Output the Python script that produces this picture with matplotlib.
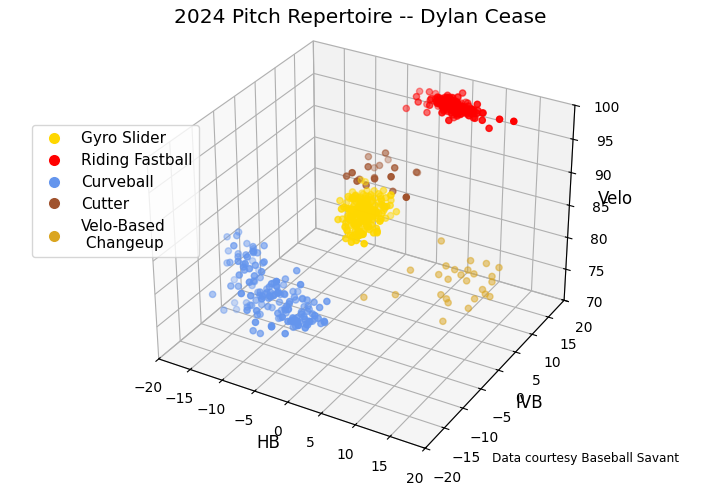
import matplotlib.pyplot as plt
from matplotlib.lines import Line2D

# pitch data: HB (in), IVB (in), velo (mph)
ff_hb = [3.0, 4.5, 2.4, 5.9, 0.9, 3.8, 5.1, 1.6, 4.1, 6.5, 0.3, 2.7, 5.6, 2.1, 3.3, 7.7, -0.7, 4.6, 3.7, 1.3,
         7.0, 4.0, 2.5, 5.0, -0.2, 2.9, 6.0, 1.9, 4.3, 3.2, 8.5, 0.6, 3.5, 5.7, 1.1, 4.1, 6.4, -1.3, 4.8, 2.7,
         2.2, 5.3, 3.0, 7.2, 0.5, 3.8, 4.5, 1.7, 9.4, 3.3, 5.4, 1.4, 4.0, 6.7, -0.5, 3.7, 4.3, 2.4, 7.5, 2.9,
         4.8, 0.8, 4.1, 6.2, 2.1, 3.2, 5.6, -2.4, 3.5, 5.1, 2.5, 7.3, 2.7, 0.1, 4.6, 3.8, 1.6, 5.9, 3.3, 10.7,
         4.5, 2.2, 3.7, 6.9, 0.9, 3.0, 5.0, 1.9, 8.0, 4.0, -1.8, 4.3, 2.9, 6.5, 1.1, 4.1, 5.4, 2.4, 3.2, 12.6,
         3.0, 4.6, 2.2, 5.3, 3.8, 1.5, 4.1, 6.0, 2.7, 3.4, 5.0, 1.9, 4.4, 3.1, 6.6, 2.4, 3.9, 4.8, 0.9, 3.6,
         5.6, 2.9, 4.2, 1.2, 3.3, 5.2, 2.5, 4.0, 6.3, 3.7, 2.0, 4.5, 3.2, 5.8, 1.7, 3.5, 4.9, 2.6, 4.3, 7.2,
         3.0, 1.4, 5.4, 3.8, 2.3, 4.7, 3.4, 6.1, 2.8, 4.1, 0.6, 3.6, 5.1, 2.1, 4.6, 3.3, 5.7, 2.6, 3.9, 4.4]
ff_ivb = [17.2, 16.5, 18.1, 17.8, 15.9, 16.9, 18.4, 17.0, 15.6, 17.5, 18.8, 16.2, 17.3, 19.0, 16.7, 17.9, 15.2, 16.4, 18.2, 17.1,
          16.0, 17.6, 18.6, 16.8, 17.4, 15.4, 18.0, 16.6, 19.3, 17.2, 16.1, 17.7, 14.8, 17.0, 18.5, 16.3, 17.8, 15.8, 16.9, 18.3,
          17.4, 16.0, 19.6, 17.1, 15.5, 16.7, 18.0, 17.5, 16.4, 14.5, 17.9, 16.8, 18.7, 15.7, 17.3, 16.2, 18.4, 17.0, 16.5, 17.6,
          15.3, 18.9, 16.9, 17.4, 16.1, 18.2, 17.7, 15.0, 16.6, 17.8, 19.1, 16.3, 17.2, 18.6, 15.9, 17.0, 16.4, 18.1, 17.5, 16.8,
          14.2, 17.3, 18.3, 16.0, 17.9, 16.7, 15.6, 18.5, 17.1, 16.2, 17.6, 19.4, 16.5, 17.4, 15.1, 18.0, 16.9, 17.7, 16.3, 17.2,
          16.8, 17.4, 17.9, 16.3, 17.1, 16.6, 18.2, 17.0, 16.1, 17.6, 16.9, 17.8, 16.4, 18.5, 17.2, 16.7, 17.5, 16.0, 17.3, 18.0,
          16.5, 17.7, 16.2, 17.1, 18.3, 16.8, 17.4, 15.8, 17.0, 16.6, 17.9, 16.3, 17.6, 16.9, 17.2, 18.4, 16.1, 17.5, 16.7, 17.3,
          17.8, 16.4, 17.0, 15.9, 17.7, 16.6, 18.1, 17.2, 16.8, 17.4, 16.2, 17.6, 16.9, 18.6, 16.5, 17.1, 17.9, 16.0, 17.3, 16.7]
ff_velo = [97.1, 96.6, 97.5, 96.9, 98.0, 96.3, 97.3, 97.8, 96.8, 97.0, 95.9, 97.6, 96.5, 97.2, 98.3, 96.7, 97.4, 96.1, 97.9, 96.9,
           97.3, 95.6, 97.0, 96.4, 98.1, 97.5, 96.8, 97.2, 96.2, 97.7, 96.6, 97.1, 98.5, 96.9, 95.8, 97.4, 96.3, 97.8, 97.0, 96.5,
           97.6, 96.7, 97.2, 98.2, 96.0, 97.3, 96.8, 97.5, 95.5, 97.1, 96.4, 97.9, 96.9, 97.0, 96.2, 97.4, 98.6, 96.6, 97.2, 96.8,
           97.7, 96.3, 97.0, 96.9, 97.5, 95.7, 97.3, 96.1, 97.8, 96.7, 97.1, 96.5, 98.0, 97.4, 96.8, 95.4, 97.2, 96.6, 97.6, 97.0,
           96.4, 97.9, 96.9, 97.3, 96.0, 97.5, 98.4, 96.7, 97.1, 96.2, 97.7, 96.8, 97.0, 95.9, 97.4, 96.6, 97.2, 98.1, 96.5, 97.0,
           97.0, 96.6, 97.4, 97.1, 96.3, 97.7, 96.9, 97.2, 96.5, 97.5, 96.8, 97.3, 97.9, 96.7, 97.0, 96.4, 97.6, 97.1, 96.9, 96.2,
           97.4, 96.8, 97.2, 97.8, 96.6, 97.0, 96.1, 97.5, 96.9, 97.3, 96.7, 97.1, 98.0, 96.5, 97.4, 96.8, 97.6, 97.0, 96.3, 97.2,
           96.9, 97.5, 96.6, 97.1, 97.8, 96.4, 97.3, 96.8, 97.0, 96.2, 97.6, 96.9, 97.4, 96.7, 97.1, 97.9, 96.5, 97.2, 96.8, 97.3]

sl_hb = [-1.3, -0.2, -2.2, 0.5, -3.0, -0.8, -1.7, 0.1, -2.6, -0.5, 1.2, -1.9, -1.0, -3.5, 0.3, -1.4, -0.1, -2.8, -0.4, -1.1,
         0.8, -2.1, -0.7, -3.8, 0.0, -1.6, 1.6, -2.4, -0.6, -1.2, 0.6, -3.2, -0.3, -1.8, 0.2, -2.5, 2.1, -1.5, -0.9, -4.2,
         0.4, -2.0, -0.4, -2.9, 1.0, -1.3, -0.1, -3.4, 0.7, -1.7, -0.8, -2.3, 1.4, -1.1, -4.6, 0.1, -1.9, -0.5, -2.7, -0.2,
         -1.4, 0.9, -3.1, -0.7, -2.1, 1.8, -1.6, 0.3, -3.6, -1.0, 0.5, -2.4, -0.3, -1.2, -3.9, 0.0, -1.8, 1.1, -2.6, -0.6,
         -1.5, 0.7, -3.3, -0.1, -2.2, 2.5, -1.1, -0.4, -2.8, 0.2, -1.7, 1.3, -3.0, -0.8, -2.0, 0.4, -5.0, -0.2, -1.3, 0.9,
         -2.5, -0.9, 1.7, -1.9, -0.5, -3.2, 0.6, -1.4, -1.0, -2.3,
         -0.1, -2.4, -0.8, -3.3, 0.6, -1.5, -2.9, -0.4, 1.1, -1.9, -3.6, 0.1, -1.2, -0.6, -2.6, 1.5, -1.7, -3.9, -0.2, 0.4,
         -2.1, -1.0, -3.0, 0.9, -1.4, -0.3, -2.5, 1.8, -1.8, -3.4, -0.7, 0.2, -2.3, -1.1, 1.3, -2.8, -0.5, -4.1, 0.0, -1.6,
         0.7, -3.2, -1.3, -0.1, -2.0, 1.0, -2.7, -0.9, -3.7, 0.3, -1.5, -0.4, -2.4, 1.6, -1.9, -0.8, -3.1, 0.5, -1.2, -2.2,
         -0.6, 0.8, -3.5, -1.6, 0.1, -2.9, -0.3, -1.3, 1.2, -2.6, -1.0, -3.8, 0.4, -1.7, -0.2, -2.1, 1.4, -1.4, -2.8, -0.7,
         -1.9, 0.6, -3.3, -0.5, -1.1, 0.9, -2.5, -0.1, -3.6, -0.8]
sl_ivb = [2.9, 0.4, 1.1, 3.8, -1.2, 2.2, 4.6, 0.8, 1.6, -0.5, 3.1, 2.5, -2.0, 1.3, 0.0, 4.0, 1.9, -0.9, 2.7, 3.4,
          0.6, -1.6, 1.4, 5.1, 2.0, 0.2, 3.6, -0.3, 1.7, 2.4, -2.6, 0.9, 3.9, 1.2, -1.0, 2.8, 4.4, 0.5, -0.1, 2.1,
          3.3, 1.5, -1.4, 0.7, 4.8, 2.6, -0.6, 1.0, 3.0, 2.3, -2.3, 1.8, 0.3, 5.4, 1.1, -0.8, 2.9, 3.7, 0.1, 1.6,
          -1.8, 2.5, 4.2, 0.9, 1.4, -0.2, 3.5, 2.0, -1.1, 0.6, 4.1, 2.8, -3.0, 1.3, 3.2, 0.4, 1.9, 4.7, -0.4, 2.2,
          0.8, -1.3, 3.6, 1.7, 2.6, -0.7, 0.2, 5.8, 1.5, 3.0, -2.0, 2.4, 1.0, 3.8, -0.1, 1.2, 4.3, 0.7, 2.1, -1.5,
          3.4, 1.8, 0.0, 2.7, -0.9, 4.5, 1.4, 0.3, 3.1, 2.0,
          0.4, 4.1, -1.5, 2.6, -2.0, 2.3, 0.9, 4.0, 2.3, -0.2, 3.5, -2.7, 0.6, 3.4, 0.8, -0.6, 1.4, 5.5, -1.2, 1.9,
          2.0, -2.4, 2.9, 3.7, -0.5, -1.5, 4.6, 0.8, 0.0, 3.1, -0.8, 1.2, 3.0, 0.5, 2.6, 4.1, -1.9, 1.9, 3.8, -2.5,
          1.6, 2.8, -0.9, 2.4, 1.0, 4.9, -0.7, 2.2, 0.2, 1.5, 3.9, -3.1, 1.5, 2.7, -0.5, 2.1, 5.2, -1.6, 2.8, 0.9,
          1.8, -0.6, 3.3, 0.4, -1.9, 3.6, 1.2, 1.4, 4.4, -1.0, 0.7, 2.9, -1.8, 4.2, 0.1, 1.7, -2.9, 4.6, 1.1, -0.2,
          3.2, -0.1, 2.5, -1.2, 3.4, 1.0, 0.6, 4.8, 1.9, 1.3]
sl_velo = [86.2, 87.9, 87.4, 86.6, 88.3, 85.8, 87.1, 86.9, 88.7, 87.5, 86.0, 87.3, 88.1, 85.6, 86.8, 87.7, 86.4, 88.5, 87.0, 85.9,
           87.6, 86.7, 88.9, 86.1, 87.2, 85.4, 87.8, 86.5, 88.2, 87.0, 86.3, 89.1, 86.9, 87.4, 85.7, 88.0, 86.6, 87.5, 84.9, 87.3,
           88.6, 86.2, 87.1, 86.8, 85.5, 88.4, 87.6, 86.0, 87.9, 86.4, 89.4, 87.2, 85.9, 86.7, 88.0, 87.5, 86.3, 85.2, 87.8, 86.9,
           87.4, 88.8, 86.1, 87.0, 86.6, 85.6, 88.3, 87.3, 86.5, 89.0, 86.8, 87.7, 85.8, 86.2, 88.5, 87.1, 86.4, 87.9, 84.7, 87.5,
           86.9, 88.1, 87.2, 85.3, 86.6, 87.8, 88.7, 86.0, 87.4, 86.5, 85.9, 88.2, 87.0, 86.3, 89.7, 87.6, 86.7, 85.5, 88.4, 87.1,
           86.8, 88.0, 85.7, 87.3, 86.1, 87.9, 88.6, 86.4, 84.4, 87.2,
           86.7, 87.9, 85.7, 87.1, 85.9, 87.8, 86.1, 88.8, 87.1, 86.9, 87.8, 85.2, 87.1, 88.4, 86.3, 85.7, 87.6, 89.2, 85.2, 87.3,
           86.7, 85.5, 88.0, 88.7, 86.2, 85.2, 88.4, 87.2, 85.9, 88.1, 86.5, 86.4, 87.9, 86.3, 88.0, 88.0, 85.5, 86.6, 88.7, 84.9,
           87.4, 87.5, 86.3, 87.1, 87.4, 88.6, 85.5, 87.6, 85.9, 87.4, 88.4, 85.0, 86.7, 88.1, 85.8, 87.4, 89.3, 85.7, 87.2, 87.0,
           87.0, 86.4, 88.1, 85.9, 85.6, 87.8, 87.4, 86.6, 88.8, 85.6, 87.0, 87.6, 85.9, 87.9, 86.5, 86.8, 85.2, 88.7, 86.4, 86.5,
           88.1, 85.7, 87.9, 85.8, 87.7, 87.3, 86.4, 89.0, 86.6, 87.1]

cu_hb = [-7.5, -5.2, -9.1, -6.3, -8.4, -4.8, -10.2, -6.9, -7.8, -3.9, -11.0, -5.7, -8.0, -6.1, -9.6, -4.4, -7.2, -12.3, -5.9, -8.7,
         -6.6, -2.9, -9.9, -7.0, -5.4, -10.8, -6.0, -8.2, -4.1, -11.7, -7.4, -5.0, -9.3, -6.8, -3.4, -8.9, -7.7, -13.1, -5.6, -6.4,
         -9.0, -4.6, -7.9, -10.5, -6.2, -8.5, -3.1, -7.1, -11.4, -5.3, -8.1, -6.7, -9.8, -4.9, -7.3, -12.6, -5.8, -8.6, -2.5, -7.6,
         -10.0, -6.5, -8.3, -4.3, -9.4, -7.0, -14.0, -5.1, -8.8, -6.0, -3.7, -9.2, -7.5, -11.9, -5.5, -8.0, -6.8, -10.4, -4.7, -7.8,
         -2.5, -0.8, -4.1, -1.6, -3.3, 0.1, -2.0, -4.8, -1.1, -3.0, -0.3, -2.8, -5.2, -1.9, -3.6, 0.5, -2.2, -1.3, -4.4, -0.6,
         -3.1, -2.6, 1.1, -1.8, -3.9, -0.1, -2.4, -5.6, -1.0, -3.4, -2.1, -0.5, -4.0, -1.5, -2.9, 0.8, -3.7, -1.2, -2.7, -4.6,
         -0.9, -2.3, -3.2, -1.7, -6.0, 0.0, -2.5, -3.8, -1.4, -2.0,
         -11.0, -9.2, -12.8, -10.1, -13.5, -8.6, -11.9, -10.6, -14.2, -9.7, -12.3, -11.4, -8.1, -13.0, -10.3, -12.0, -9.0, -11.6, -14.8, -10.9,
         -12.6, -9.5, -11.2, -13.8, -10.0]
cu_ivb = [-11.2, -14.6, -13.9, -10.5, -15.3, -12.4, -12.0, -16.1, -13.3, -9.8, -14.0, -12.8, -15.7, -11.6, -13.5, -14.9, -10.9, -13.1, -12.2, -16.8,
          -13.7, -11.0, -14.3, -12.6, -15.0, -9.4, -13.8, -12.9, -11.4, -14.7, -16.3, -12.3, -10.7, -13.6, -15.5, -12.0, -14.1, -11.8, -13.2, -17.2,
          -12.5, -14.8, -10.2, -13.0, -15.9, -11.5, -13.4, -14.4, -9.9, -12.7, -16.5, -13.9, -11.1, -14.2, -12.1, -15.2, -10.8, -13.6, -12.4, -14.9,
          -11.7, -16.0, -13.1, -10.4, -14.5, -12.8, -15.6, -11.3, -13.7, -12.2, -17.6, -14.0, -10.0, -13.3, -15.1, -11.9, -12.6, -14.6, -9.6, -13.8,
          -12.3, -13.6, -11.1, -12.9, -14.2, -11.8, -13.1, -10.6, -12.5, -14.8, -11.4, -13.3, -12.0, -15.1, -12.7, -10.9, -13.9, -11.6, -12.2, -14.5,
          -11.0, -13.4, -12.6, -10.2, -14.0, -12.1, -13.0, -11.5, -15.5, -12.8, -11.3, -13.7, -12.4, -10.8, -14.3, -12.0, -13.2, -11.7, -16.0, -12.5,
          -13.8, -11.2, -12.9, -14.6, -11.9, -13.1, -10.4, -12.3, -13.5, -11.6,
          -12.0, -10.4, -13.1, -11.6, -9.8, -13.8, -12.5, -10.9, -11.3, -14.2, -12.8, -9.5, -12.2, -11.0, -13.5, -10.2, -12.9, -11.8, -10.6, -14.0,
          -11.4, -12.6, -9.9, -12.3, -13.2]
cu_velo = [79.2, 81.5, 78.4, 80.6, 82.9, 77.8, 80.1, 79.5, 83.6, 78.9, 80.8, 76.9, 81.2, 79.8, 78.1, 82.3, 80.4, 77.4, 79.0, 81.9,
           80.2, 78.6, 84.2, 79.6, 77.1, 80.9, 82.6, 78.3, 79.9, 81.0, 76.4, 80.5, 83.1, 78.8, 79.3, 81.7, 77.6, 80.0, 82.0, 78.5,
           79.7, 83.9, 80.3, 77.9, 81.4, 79.1, 76.7, 80.7, 82.4, 78.2, 79.4, 81.1, 84.7, 78.7, 80.0, 77.3, 81.8, 79.2, 82.8, 78.0,
           80.6, 76.1, 79.8, 83.3, 78.4, 81.3, 79.5, 77.7, 82.1, 80.4, 78.9, 84.0, 79.0, 76.6, 81.6, 80.2, 78.1, 83.0, 79.6, 80.8,
           78.6, 77.9, 79.3, 78.1, 79.8, 77.4, 78.9, 80.1, 77.7, 78.4, 79.5, 76.9, 78.2, 79.0, 77.6, 80.4, 78.7, 77.2, 79.2, 78.0,
           79.7, 77.8, 78.5, 76.6, 79.4, 78.3, 77.5, 80.0, 78.8, 77.1, 79.1, 78.6, 76.8, 79.6, 78.2, 77.9, 80.3, 78.4, 77.3, 79.0,
           78.1, 79.9, 77.6, 78.7, 76.4, 79.3, 78.0, 77.2, 78.9, 78.5,
           84.5, 85.6, 83.4, 84.9, 86.1, 83.0, 84.2, 85.3, 83.8, 84.7, 85.9, 83.6, 84.4, 86.3, 83.2, 85.0, 84.0, 82.8, 85.4, 84.6,
           83.9, 85.8, 84.3, 82.6, 85.1]

fc_hb = [-4.7, -2.3, -2.9, -3.3, -4.3, -3.1, -0.1, -5.4, -4.3, -4.4, -3.5, -2.9, -1.8, 0.7, 2.1, 1.4, -2.8, 0.2, 3.4]
fc_ivb = [8.8, 9.2, 11.0, 6.3, 9.7, 9.0, 7.8, 4.2, 3.8, 5.9, 3.7, 7.3, 5.4, 5.4, 9.8, 11.4, 4.9, 6.8, 4.7]
fc_velo = [91, 92, 90, 91, 89, 90, 91, 90, 91, 89, 90, 89, 90, 91, 90, 89, 89, 88, 89]

ch_hb = [7.2, 12.2, 13.6, 14.8, 6.5, 10.8, 10.7, 11.3, 13.0, 13.4, 14.3, 17.1, 8.7,
         11.1, 11.9, 16.9, 16.3, 17.8, 10.6, 13.2, 13.1, 14.9, 16.0, 7.0, 4.6, 13.9]
ch_ivb = [7.6, 6.5, 8.4, 9.8, 0.4, 2.2, 4.9, 5.6, 4.2, 5.2, 8.8, 3.1, 4.2,
          2.3, 6.1, 0.8, 2.9, 1.2, 1.3, -2.1, -1.4, 2.6, -1.3, -4.5, -8.5, -4.3]
ch_velo = [82, 81, 80, 79, 81, 82, 80, 79, 81, 80, 78, 81, 79,
           80, 78, 81, 79, 80, 78, 80, 79, 78, 79, 80, 81, 78]

pitch_names = ['Gyro Slider', 'Riding Fastball', 'Curveball', 'Cutter', 'Velo-Based\n Changeup']
pitch_colors = ['gold', 'red', 'cornflowerblue', 'sienna', 'goldenrod']

fig = plt.figure(figsize=(7.2, 5.04), dpi=100)
ax = fig.add_axes([0.1135, 0.143, 0.775, 0.77], projection='3d')
ax.set_box_aspect((4, 4, 3), zoom=1.22)

ax.scatter(sl_hb, sl_ivb, sl_velo, color=pitch_colors[0])
ax.scatter(ff_hb, ff_ivb, ff_velo, color=pitch_colors[1])
ax.scatter(cu_hb, cu_ivb, cu_velo, color=pitch_colors[2])
ax.scatter(fc_hb, fc_ivb, fc_velo, color=pitch_colors[3])
ax.scatter(ch_hb, ch_ivb, ch_velo, color=pitch_colors[4], alpha=0.5)

ax.set_xlim(-20, 20)
ax.set_ylim(-20, 20)
ax.set_zlim(70, 100)
ax.set_xlabel('HB', fontsize=12, labelpad=-4)
ax.set_ylabel('IVB', fontsize=12, labelpad=-4)
ax.set_zlabel('Velo', fontsize=12, labelpad=-4)
ax.tick_params(labelsize=10)
ax.xaxis.set_tick_params(pad=1.5)
fig.suptitle('2024 Pitch Repertoire -- Dylan Cease', fontsize=14.5, y=0.985)

handles = [Line2D([0], [0], marker='o', color='w', markerfacecolor=c, markersize=9)
           for c in pitch_colors]
fig.legend(handles, pitch_names, loc='upper left', bbox_to_anchor=(0.034, 0.767),
           fontsize=11, labelspacing=0.45)

fig.text(0.683, 0.083, 'Data courtesy Baseball Savant', fontsize=8.7)

fig.savefig('out.png')
